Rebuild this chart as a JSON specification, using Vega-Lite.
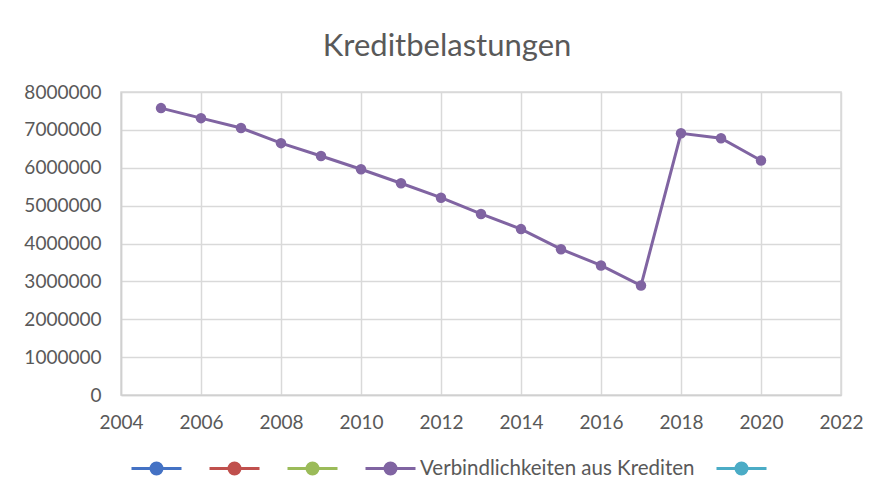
{
  "$schema": "https://vega.github.io/schema/vega-lite/v6.json",
  "width": 720,
  "height": 303,
  "autosize": {"type": "none"},
  "padding": {"left": 121, "top": 92, "right": 36, "bottom": 102},
  "background": "white",
  "title": {
    "text": "Kreditbelastungen",
    "font": "Lato",
    "fontSize": 31,
    "fontWeight": "normal",
    "color": "#595959",
    "anchor": "middle",
    "frame": "group",
    "dx": -34,
    "dy": 41,
    "baseline": "alphabetic",
    "offset": 37
  },
  "config": {
    "view": {"stroke": "#d9d9d9", "strokeWidth": 1.5},
    "axis": {
      "labelFont": "Lato",
      "labelFontSize": 19,
      "labelColor": "#595959",
      "gridColor": "#d9d9d9",
      "gridWidth": 1.5,
      "domainColor": "#d0d0d0",
      "domainWidth": 1.5,
      "ticks": false,
      "title": null
    }
  },
  "data": {
    "values": [
      {"Jahr": 2005, "Wert": 7575000, "Reihe": "Verbindlichkeiten aus Krediten"},
      {"Jahr": 2006, "Wert": 7310000, "Reihe": "Verbindlichkeiten aus Krediten"},
      {"Jahr": 2007, "Wert": 7050000, "Reihe": "Verbindlichkeiten aus Krediten"},
      {"Jahr": 2008, "Wert": 6650000, "Reihe": "Verbindlichkeiten aus Krediten"},
      {"Jahr": 2009, "Wert": 6310000, "Reihe": "Verbindlichkeiten aus Krediten"},
      {"Jahr": 2010, "Wert": 5960000, "Reihe": "Verbindlichkeiten aus Krediten"},
      {"Jahr": 2011, "Wert": 5590000, "Reihe": "Verbindlichkeiten aus Krediten"},
      {"Jahr": 2012, "Wert": 5210000, "Reihe": "Verbindlichkeiten aus Krediten"},
      {"Jahr": 2013, "Wert": 4780000, "Reihe": "Verbindlichkeiten aus Krediten"},
      {"Jahr": 2014, "Wert": 4380000, "Reihe": "Verbindlichkeiten aus Krediten"},
      {"Jahr": 2015, "Wert": 3850000, "Reihe": "Verbindlichkeiten aus Krediten"},
      {"Jahr": 2016, "Wert": 3420000, "Reihe": "Verbindlichkeiten aus Krediten"},
      {"Jahr": 2017, "Wert": 2890000, "Reihe": "Verbindlichkeiten aus Krediten"},
      {"Jahr": 2018, "Wert": 6910000, "Reihe": "Verbindlichkeiten aus Krediten"},
      {"Jahr": 2019, "Wert": 6780000, "Reihe": "Verbindlichkeiten aus Krediten"},
      {"Jahr": 2020, "Wert": 6190000, "Reihe": "Verbindlichkeiten aus Krediten"}
    ]
  },
  "mark": {
    "type": "line",
    "strokeWidth": 3,
    "point": {"filled": true, "size": 110}
  },
  "encoding": {
    "x": {
      "field": "Jahr",
      "type": "quantitative",
      "scale": {"domain": [2004, 2022], "nice": false, "zero": false},
      "axis": {
        "values": [2004, 2006, 2008, 2010, 2012, 2014, 2016, 2018, 2020, 2022],
        "format": "d",
        "labelPadding": 18,
        "labelFlush": false
      }
    },
    "y": {
      "field": "Wert",
      "type": "quantitative",
      "scale": {"domain": [0, 8000000], "nice": false},
      "axis": {
        "values": [0, 1000000, 2000000, 3000000, 4000000, 5000000, 6000000, 7000000, 8000000],
        "format": "d",
        "labelPadding": 20
      }
    },
    "color": {
      "field": "Reihe",
      "type": "nominal",
      "scale": {
        "domain": ["Reihe 1", "Reihe 2", "Reihe 3", "Verbindlichkeiten aus Krediten", "Reihe 5"],
        "range": ["#4472C4", "#C0504D", "#9BBB59", "#8064A2", "#4BACC6"]
      },
      "legend": {
        "orient": "none",
        "direction": "horizontal",
        "legendX": 9,
        "legendY": 350,
        "padding": 0,
        "title": null,
        "symbolType": "M-1,0H1M0.22,0A0.22,0.22 0 1,1 -0.22,0A0.22,0.22 0 1,1 0.22,0Z",
        "symbolSize": 2500,
        "symbolStrokeWidth": 3,
        "labelFont": "Lato",
        "labelFontSize": 20.5,
        "labelColor": "#595959",
        "labelOffset": 3,
        "labelLimit": 0,
        "columnPadding": 15,
        "labelExpr": "datum.label == 'Verbindlichkeiten aus Krediten' ? datum.label : ''",
        "encode": {
          "symbols": {
            "update": {
              "fill": {"scale": "color", "field": "value"},
              "stroke": {"scale": "color", "field": "value"},
              "strokeWidth": {"value": 3},
              "opacity": {"value": 1}
            }
          }
        }
      }
    }
  }
}
